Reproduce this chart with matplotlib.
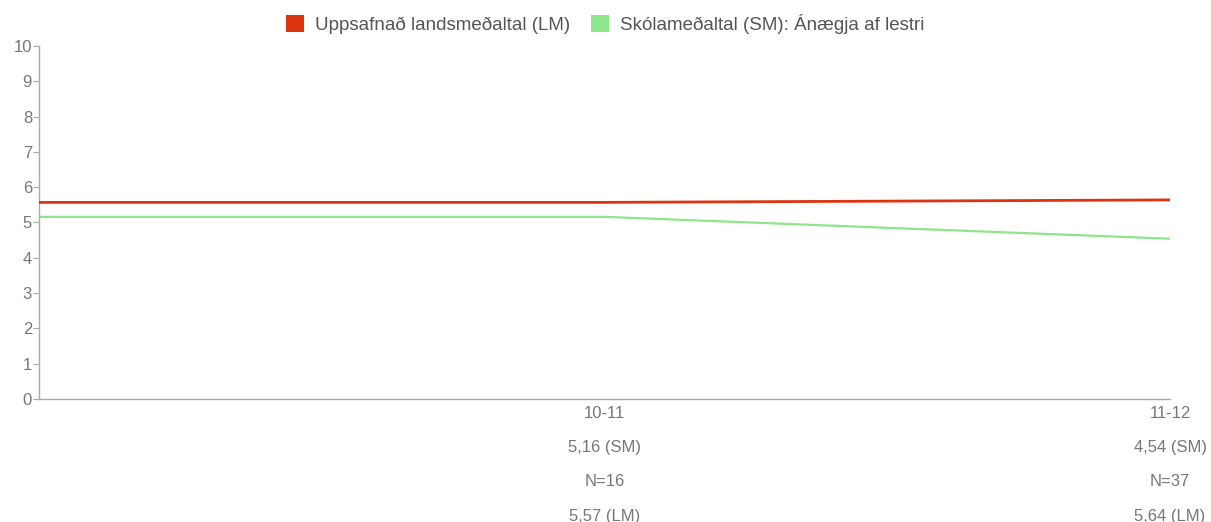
"""
Line chart: school average vs cumulative national average (reading enjoyment).
"""

import matplotlib
matplotlib.use("Agg")
import matplotlib.pyplot as plt
from matplotlib.patches import Patch

# data
categories = ["", "10-11", "11-12"]
lm_values = [5.57, 5.57, 5.64]   # Uppsafnað landsmeðaltal
sm_values = [5.16, 5.16, 4.54]   # Skólameðaltal
n_values = [None, 16, 37]

RED = "#dd3310"
GREEN = "#8ee68a"
GRAY = "#777777"

plt.rcParams["font.family"] = ["Liberation Sans", "DejaVu Sans"]


def fmt(v):
    return f"{v:.2f}".replace(".", ",")


def tick_label(i):
    if not categories[i]:
        return ""
    return "{}\n{} (SM)\nN={}\n{} (LM)".format(
        categories[i], fmt(sm_values[i]), n_values[i], fmt(lm_values[i]))


fig = plt.figure(figsize=(12.11, 5.22), dpi=100)
ax = fig.add_axes([39 / 1211, 1 - 399 / 522, (1170 - 39) / 1211, (399 - 46) / 522])

x = list(range(len(categories)))
ax.plot(x, lm_values, color=RED, lw=2.0, solid_capstyle="butt", zorder=3)
ax.plot(x, sm_values, color=GREEN, lw=1.6, solid_capstyle="butt", zorder=2)

ax.set_xlim(0, len(categories) - 1)
ax.set_ylim(0, 10)
ax.set_yticks(range(0, 11))
ax.set_xticks(x)
ax.set_xticklabels([tick_label(i) for i in x], linespacing=2.6)

#axis styling
for side in ["top", "right"]:
    ax.spines[side].set_visible(False)
for side in ["left", "bottom"]:
    ax.spines[side].set_color("#aaaaaa")
    ax.spines[side].set_linewidth(1.0)
ax.tick_params(axis="y", colors="#aaaaaa", labelcolor=GRAY, labelsize=12,
               length=4, width=0.8, pad=1)
ax.tick_params(axis="x", length=0, labelcolor=GRAY, labelsize=12, pad=5)

#legend on top
handles = [Patch(facecolor=RED, edgecolor="none"),
           Patch(facecolor=GREEN, edgecolor="none")]
labels = ["Uppsafnað landsmeðaltal (LM)", "Skólameðaltal (SM): Ánægja af lestri"]
fig.legend(handles, labels, loc="upper center", bbox_to_anchor=(0.5, 1.005),
           ncol=2, frameon=False, fontsize=13.5, labelcolor="#555555",
           handlelength=0.95, handleheight=1.0, handletextpad=0.6,
           columnspacing=1.1)

fig.savefig("out.png", dpi=100)
